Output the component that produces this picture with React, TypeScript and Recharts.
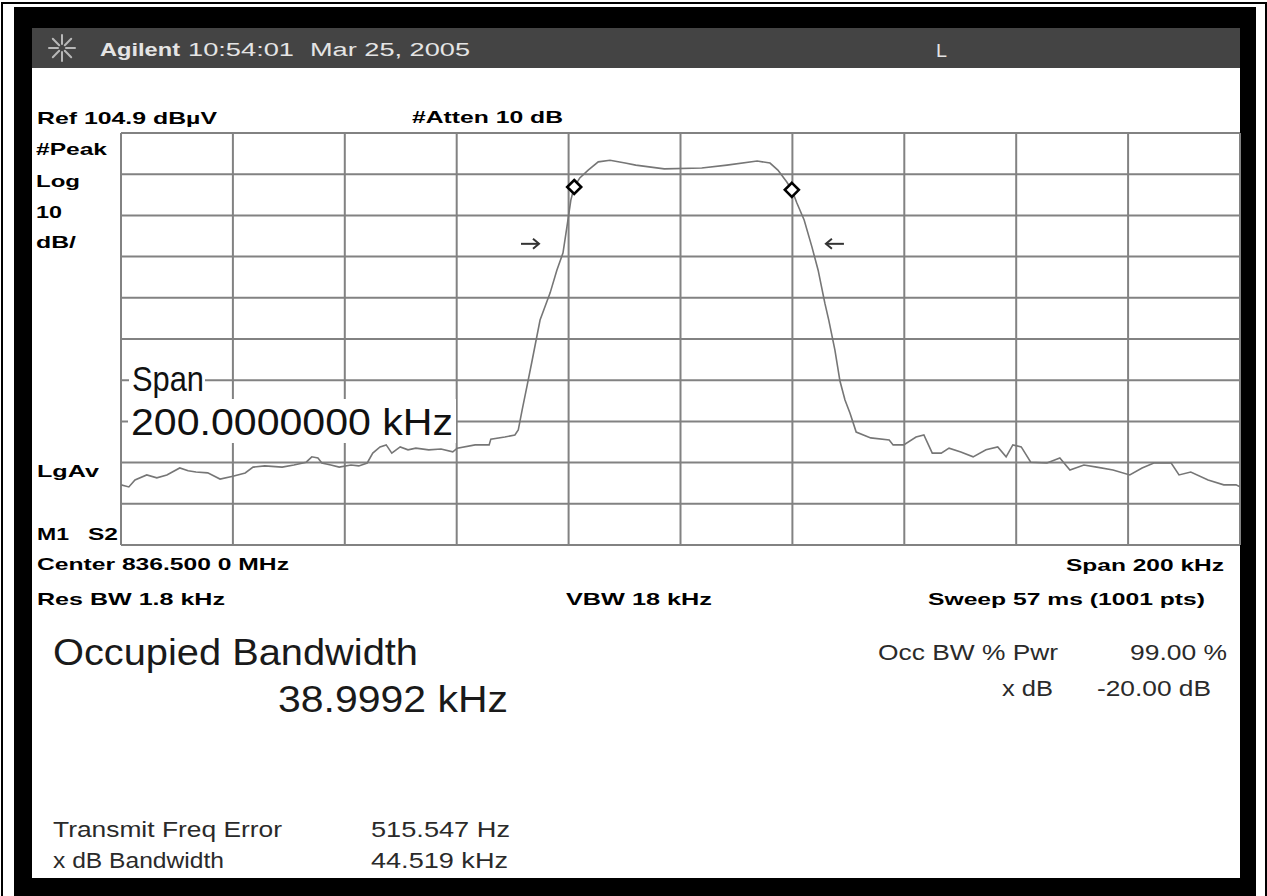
import { ComposedChart, Line, Scatter, XAxis, YAxis, CartesianGrid } from 'recharts';

// trace, kHz offset from 836.5 MHz centre / dBuV
const freqs = [
  -100, -98.6, -97.5, -95.4, -93.6, -91.8, -89.5, -88.0, -86.6, -84.5,
  -82.3, -80.0, -77.8, -76.4, -74.3, -71.2, -69.1, -66.9, -65.9, -64.8,
  -64.1, -62.5, -61.0, -58.9, -57.5, -56.0, -55.0, -53.7, -52.6, -51.6,
  -50.1, -48.7, -47.3, -45.0, -42.8, -40.7, -39.9, -36.7, -34.2, -33.9,
  -31.4, -29.6, -29.0, -28.3, -27.4, -26.5, -25.1, -23.3, -22.1, -21.0,
  -20.3, -19.6, -19.0, -18.0, -16.5, -14.7, -12.6, -9.9, -8.0, -2.9,
  3.8, 8.3, 13.7, 16.0, 17.4, 19.0, 19.9, 20.8, 22.1, 23.5,
  24.6, 25.8, 26.5, 27.6, 28.5, 29.4, 30.3, 31.4, 34.0, 37.3,
  38.0, 39.9, 42.1, 43.5, 45.0, 46.6, 48.0, 50.1, 52.3, 54.6,
  56.7, 58.2, 59.4, 60.9, 62.6, 65.5, 67.8, 69.6, 72.1, 74.4,
  77.3, 80.3, 82.5, 84.6, 87.7, 89.1, 91.2, 94.3, 97.1, 99.3, 100,
];
const levels = [
  19.5, 19.0, 20.7, 21.9, 21.2, 21.9, 23.6, 22.9, 22.6, 22.4,
  20.9, 21.6, 22.4, 23.8, 24.1, 23.8, 24.3, 25.0, 26.3, 26.0,
  24.8, 24.3, 23.8, 24.3, 24.1, 24.8, 27.2, 28.7, 29.2, 27.2,
  28.7, 28.0, 28.4, 28.0, 28.2, 27.5, 28.4, 29.2, 29.2, 30.6,
  31.1, 31.6, 32.8, 37.7, 43.7, 49.8, 59.5, 66.1, 71.6, 75.8,
  82.1, 88.6, 91.8, 94.0, 95.9, 97.9, 98.3, 97.6, 97.1, 96.2,
  96.4, 97.1, 98.1, 97.6, 95.9, 93.0, 91.1, 87.9, 83.8, 77.2,
  71.6, 63.6, 59.5, 52.2, 44.7, 40.1, 36.9, 32.3, 30.9, 30.4,
  29.2, 29.2, 31.1, 31.6, 27.2, 27.2, 28.4, 27.5, 26.3, 28.0,
  28.7, 26.3, 29.2, 28.7, 25.0, 24.8, 26.0, 23.1, 24.3, 23.8,
  23.1, 21.9, 23.6, 24.8, 24.8, 21.9, 22.6, 20.7, 19.5, 19.5, 19.0,
];

// occupied bandwidth markers
const markerFreqs = [-19.0, 19.9];
const markerLevels = [91.8, 91.1];

// x dB bandwidth arrows
const arrowFreqs = [-26.9, 27.6];
const arrowLevels = [78.0, 78.0];
const arrowDirs = ['right', 'left'];

const xTicks = [-100, -80, -60, -40, -20, 0, 20, 40, 60, 80, 100];
const yTicks = [4.9, 14.9, 24.9, 34.9, 44.9, 54.9, 64.9, 74.9, 84.9, 94.9, 104.9];

const traceData = freqs.map((f, i) => ({ f, v: levels[i] }));
const markerData = markerFreqs.map((f, i) => ({ f, v: markerLevels[i] }));
const arrowData = arrowFreqs.map((f, i) => ({ f, v: arrowLevels[i], dir: arrowDirs[i] }));

const FONT = "'Liberation Sans', Arial, Helvetica, sans-serif";

type Label = { t: string; x: number; y: number; w: number; s: number; b?: boolean; c?: string };

const labels: Label[] = [
  { t: 'Agilent', x: 100, y: 56, w: 80, s: 18, b: true, c: '#e4e4e4' },
  { t: '10:54:01', x: 188, y: 56, w: 106, s: 18, c: '#e4e4e4' },
  { t: 'Mar 25, 2005', x: 310, y: 56, w: 160, s: 18, c: '#e4e4e4' },
  { t: 'L', x: 936, y: 57, w: 11, s: 19, c: '#e4e4e4' },
  { t: 'Ref 104.9 dBµV', x: 37, y: 124, w: 180, s: 17, b: true },
  { t: '#Atten 10 dB', x: 412, y: 123, w: 151, s: 17, b: true },
  { t: '#Peak', x: 36, y: 155, w: 71, s: 17, b: true },
  { t: 'Log', x: 36, y: 187, w: 44, s: 17, b: true },
  { t: '10', x: 36, y: 218, w: 26, s: 17, b: true },
  { t: 'dB/', x: 36, y: 248, w: 40, s: 17, b: true },
  { t: 'LgAv', x: 37, y: 477, w: 62, s: 17, b: true },
  { t: 'M1', x: 37, y: 540, w: 32, s: 17, b: true },
  { t: 'S2', x: 88, y: 540, w: 30, s: 17, b: true },
  { t: 'Center 836.500 0 MHz', x: 37, y: 570, w: 252, s: 17, b: true },
  { t: 'Span 200 kHz', x: 1066, y: 571, w: 158, s: 17, b: true },
  { t: 'Res BW 1.8 kHz', x: 37, y: 605, w: 188, s: 17, b: true },
  { t: 'VBW 18 kHz', x: 566, y: 605, w: 146, s: 17, b: true },
  { t: 'Sweep 57 ms (1001 pts)', x: 928, y: 605, w: 277, s: 17, b: true },
  { t: 'Span', x: 132, y: 391, w: 72, s: 35, c: '#111' },
  { t: '200.0000000 kHz', x: 131, y: 435, w: 322, s: 37, c: '#111' },
  { t: 'Occupied Bandwidth', x: 53, y: 665, w: 365, s: 36, c: '#1a1a1a' },
  { t: '38.9992 kHz', x: 278, y: 712, w: 230, s: 36, c: '#1a1a1a' },
  { t: 'Occ BW % Pwr', x: 878, y: 660, w: 180, s: 22, c: '#2a2a2a' },
  { t: '99.00 %', x: 1130, y: 660, w: 97, s: 22, c: '#2a2a2a' },
  { t: 'x dB', x: 1002, y: 696, w: 51, s: 22, c: '#2a2a2a' },
  { t: '-20.00 dB', x: 1097, y: 696, w: 114, s: 22, c: '#2a2a2a' },
  { t: 'Transmit Freq Error', x: 53, y: 837, w: 229, s: 22, c: '#2a2a2a' },
  { t: '515.547 Hz', x: 371, y: 837, w: 139, s: 22, c: '#2a2a2a' },
  { t: 'x dB Bandwidth', x: 53, y: 868, w: 171, s: 22, c: '#2a2a2a' },
  { t: '44.519 kHz', x: 371, y: 868, w: 137, s: 22, c: '#2a2a2a' },
];

const NoTick = () => <g />;

const Diamond = (p: any) => {
  const { cx, cy } = p;
  if (cx == null || cy == null) return null;
  const r = 7;
  return (
    <polygon
      points={`${cx},${cy - r} ${cx + r},${cy} ${cx},${cy + r} ${cx - r},${cy}`}
      fill="#fff"
      stroke="#000"
      strokeWidth={2.6}
    />
  );
};

const Arrow = (p: any) => {
  const { cx, cy, payload } = p;
  if (cx == null || cy == null) return null;
  const d = payload.dir === 'right' ? 1 : -1;
  const h = 9;
  return (
    <g stroke="#333" strokeWidth={2} fill="none">
      <line x1={cx - d * h} y1={cy} x2={cx + d * h} y2={cy} />
      <polyline points={`${cx + d * (h - 6)},${cy - 5} ${cx + d * h},${cy} ${cx + d * (h - 6)},${cy + 5}`} />
    </g>
  );
};

function AgilentIcon() {
  const rays = [0, 45, 90, 135, 180, 225, 270, 315];
  return (
    <g stroke="#b8b8b8" strokeWidth={2} strokeLinecap="round">
      {rays.map(a => {
        const r = (a * Math.PI) / 180;
        return (
          <line
            key={a}
            x1={62 + Math.cos(r) * 4}
            y1={48 + Math.sin(r) * 4}
            x2={62 + Math.cos(r) * 13}
            y2={48 + Math.sin(r) * 13}
          />
        );
      })}
    </g>
  );
}

export default function App() {
  return (
    <div style={{ position: 'absolute', left: 0, top: 0, width: 1267, height: 896, background: '#fff', overflow: 'hidden' }}>
      {/* thin outer border */}
      <div style={{ position: 'absolute', left: 1, top: 2, width: 1262, height: 900, border: '2px solid #000' }} />
      {/* instrument bezel */}
      <div style={{ position: 'absolute', left: 14, top: 7, width: 1242, height: 889, background: '#000' }} />
      <div style={{ position: 'absolute', left: 32, top: 28, width: 1208, height: 40, background: '#444' }} />
      <div style={{ position: 'absolute', left: 32, top: 68, width: 1208, height: 810, background: '#fff' }} />

      <div style={{ position: 'absolute', left: 119, top: 131 }}>
        <ComposedChart width={1123} height={416} margin={{ top: 2, right: 2, bottom: 2, left: 2 }}>
          <CartesianGrid
            stroke="#828282"
            strokeWidth={2}
            verticalValues={xTicks}
            horizontalValues={yTicks}
          />
          <XAxis
            dataKey="f"
            type="number"
            domain={[-100, 100]}
            ticks={xTicks}
            interval={0}
            tick={NoTick}
            tickLine={false}
            axisLine={false}
            height={0}
            allowDataOverflow
          />
          <YAxis
            type="number"
            domain={[4.9, 104.9]}
            ticks={yTicks}
            interval={0}
            tick={NoTick}
            tickLine={false}
            axisLine={false}
            width={0}
            allowDataOverflow
          />
          <Line
            data={traceData}
            dataKey="v"
            type="linear"
            stroke="#767676"
            strokeWidth={1.6}
            dot={false}
            isAnimationActive={false}
          />
          <Scatter data={markerData} dataKey="v" shape={Diamond} isAnimationActive={false} />
          <Scatter data={arrowData} dataKey="v" shape={Arrow} isAnimationActive={false} />
        </ComposedChart>
      </div>

      <svg width={1267} height={896} style={{ position: 'absolute', left: 0, top: 0, pointerEvents: 'none' }}>
        <AgilentIcon />
        {/* text boxes that cover the graticule */}
        <rect x={129} y={362} width={76} height={34} fill="#fff" />
        <rect x={128} y={399} width={328} height={44} fill="#fff" />
        {labels.map((l, i) => (
          <text
            key={i}
            x={l.x}
            y={l.y}
            textLength={l.w}
            lengthAdjust="spacingAndGlyphs"
            fontFamily={FONT}
            fontSize={l.s}
            fontWeight={l.b ? 'bold' : 'normal'}
            fill={l.c || '#000'}
          >
            {l.t}
          </text>
        ))}
      </svg>
    </div>
  );
}
